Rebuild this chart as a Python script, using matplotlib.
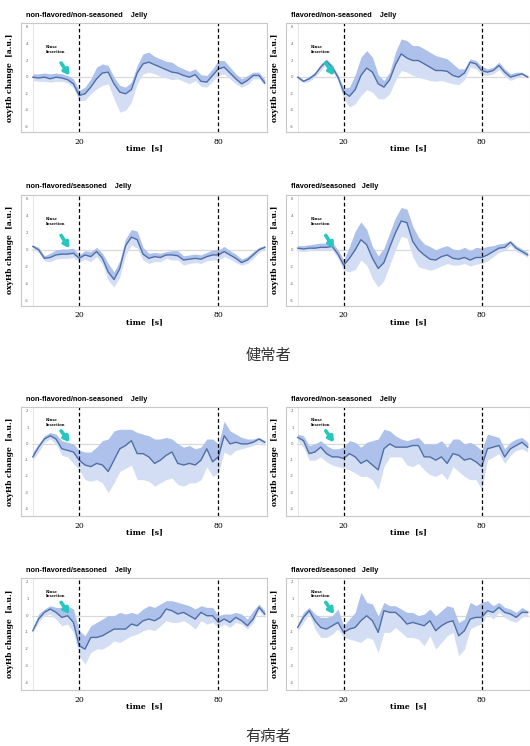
import numpy as np
import matplotlib
matplotlib.use("Agg")
import matplotlib.pyplot as plt

# time axis (s)
t = np.arange(0, 101, 2.5)

titles = ["non-flavored/non-seasoned    Jelly", "flavored/non-seasoned    Jelly",
          "non-flavored/seasoned    Jelly", "flavored/seasoned   Jelly"]
groups = ["健常者", "有病者"]
event_times = [20, 80]
xticks = [20, 80]
yticks_healthy = [6, 4, 2, 0, -2, -4, -6]
yticks_patient = [2, 1, 0, -1, -2, -3, -4]

# healthy subjects
h1_mean = [0.0, -0.1, 0.0, -0.2, 0.0, -0.1, -0.3, -0.8, -2.2, -2.0, -1.2, -0.2, 0.5, 0.6, -0.8, -1.8, -2.0, -1.5, 0.5, 1.6, 1.8,
           1.5, 1.2, 0.9, 0.6, 0.5, 0.2, 0.0, 0.3, -0.5, -0.6, 0.2, 1.0, 1.2, 0.5, -0.2, -0.8, -0.4, 0.2, 0.2, -0.7]
h1_up = [0.4, 0.4, 0.5, 0.4, 0.5, 0.4, 0.2, -0.2, -1.6, -1.2, -0.2, 1.2, 1.6, 1.4, 0.0, -1.0, -1.2, -0.6, 1.4, 2.8, 3.0,
         2.5, 2.2, 1.9, 1.8, 1.3, 1.0, 0.7, 1.0, 0.3, 0.2, 1.0, 2.0, 2.0, 1.2, 0.4, -0.2, 0.2, 0.6, 0.6, -0.3]
h1_lo = [-0.4, -0.5, -0.5, -0.6, -0.5, -0.5, -0.7, -1.3, -2.8, -2.8, -2.0, -1.4, -1.0, -0.8, -2.6, -4.2, -4.0, -3.0, -0.8, 0.4, 0.6,
         0.4, 0.1, -0.1, -0.3, -0.2, -0.5, -0.8, -0.4, -1.1, -1.2, -0.5, 0.2, 0.4, -0.2, -0.8, -1.2, -0.9, -0.2, -0.2, -1.0]

h2_mean = [0.0, -0.5, -0.2, 0.3, 1.2, 1.9, 1.2, 0.0, -1.8, -2.3, -1.5, 0.2, 1.1, 0.6, -0.8, -1.2, -0.3, 1.5, 2.8, 2.3, 2.0,
           2.0, 1.6, 1.2, 0.8, 0.8, 0.7, 0.2, 0.0, 0.5, 1.8, 1.6, 0.8, 0.6, 0.8, 1.4, 0.6, 0.0, 0.2, 0.4, 0.0]
h2_up = [0.2, -0.3, 0.1, 0.6, 1.6, 2.2, 1.5, 0.3, -1.3, -1.2, 0.3, 2.4, 3.2, 2.4, 0.3, -0.4, 0.6, 3.0, 4.6, 4.4, 3.8,
         3.8, 3.4, 3.0, 2.6, 2.4, 2.2, 1.6, 1.0, 1.0, 2.2, 2.0, 1.3, 1.0, 1.2, 1.8, 1.0, 0.4, 0.6, 0.6, 0.2]
h2_lo = [-0.2, -0.7, -0.5, 0.0, 0.8, 1.6, 0.8, -0.4, -2.6, -3.6, -3.2, -2.2, -1.5, -1.8, -2.6, -2.6, -2.0, -0.4, 0.8, 0.6, 0.2,
         0.0, -0.2, -0.4, -0.5, -0.4, -0.6, -0.8, -0.9, -0.3, 1.2, 1.0, 0.3, 0.2, 0.4, 0.9, 0.1, -0.4, -0.1, 0.2, -0.1]

h3_mean = [0.4, 0.0, -1.0, -0.9, -0.6, -0.5, -0.5, -0.4, -1.0, -0.6, -0.8, -0.2, -1.0, -2.6, -3.5, -2.2, 0.5, 1.5, 1.2, -0.5, -1.0,
           -0.8, -0.9, -0.6, -0.6, -0.7, -1.2, -1.1, -1.0, -1.1, -0.8, -0.6, -0.6, -0.2, -0.6, -1.0, -1.5, -1.2, -0.6, 0.0, 0.3]
h3_up = [0.6, 0.3, -0.7, -0.4, 0.0, 0.1, 0.1, 0.2, -0.6, -0.1, -0.2, 0.3, -0.4, -1.6, -2.6, -1.3, 1.3, 2.4, 2.2, 0.3, -0.4,
         -0.3, -0.4, -0.2, -0.1, -0.1, -0.7, -0.6, -0.5, -0.6, -0.3, 0.0, 0.0, 0.4, -0.1, -0.5, -1.1, -0.8, -0.2, 0.3, 0.5]
h3_lo = [0.2, -0.3, -1.3, -1.4, -1.1, -1.0, -1.0, -0.9, -1.4, -1.1, -1.4, -0.8, -1.7, -3.6, -4.4, -3.2, -0.6, 0.6, 0.2, -1.2, -1.6,
         -1.4, -1.4, -1.0, -1.2, -1.2, -1.8, -1.6, -1.5, -1.6, -1.3, -1.2, -1.2, -0.8, -1.1, -1.5, -1.8, -1.6, -1.0, -0.3, 0.1]

h4_mean = [0.2, 0.1, 0.2, 0.2, 0.3, 0.3, 0.4, -0.5, -1.8, -1.0, 0.0, 1.2, 0.6, -1.0, -2.2, -1.5, 0.3, 2.0, 3.4, 3.2, 1.0,
           0.0, -0.6, -1.1, -1.2, -0.8, -0.6, -1.0, -1.1, -0.9, -1.2, -0.9, -0.9, -0.6, -0.2, 0.2, 0.3, 0.9, 0.2, -0.2, -0.6]
h4_up = [0.5, 0.5, 0.6, 0.7, 0.8, 0.8, 0.9, 0.0, -1.2, 0.4, 2.2, 3.3, 2.4, 0.4, -0.7, 0.2, 2.0, 3.8, 5.0, 4.8, 2.8,
         1.5, 0.7, 0.4, 0.0, 0.3, 0.5, 0.1, 0.0, 0.3, -0.1, 0.3, 0.2, 0.4, 0.5, 0.7, 0.8, 1.1, 0.5, 0.1, -0.3]
h4_lo = [-0.1, -0.2, -0.1, 0.0, 0.0, 0.0, 0.0, -1.0, -2.4, -2.6, -2.3, -1.2, -1.8, -3.4, -4.4, -3.6, -1.8, 0.0, 1.6, 1.4, -0.8,
         -2.0, -2.2, -2.4, -2.2, -1.9, -1.6, -1.8, -1.8, -1.6, -1.9, -1.7, -1.6, -1.3, -0.8, -0.3, -0.1, 0.5, -0.2, -0.5, -0.9]

# patients
p1_mean = [-0.8, -0.2, 0.3, 0.5, 0.3, -0.3, -0.4, -0.5, -1.0, -1.3, -1.4, -1.2, -1.3, -1.7, -1.0, -0.3, -0.1, 0.2, -0.6, -0.6, -0.8,
           -1.2, -1.0, -0.7, -0.5, -1.2, -1.3, -1.2, -1.3, -1.0, -0.3, -1.1, -0.8, 0.5, 0.0, 0.1, 0.0, 0.0, 0.1, 0.3, 0.1]
p1_up = [-0.5, 0.0, 0.5, 0.7, 0.6, 0.2, 0.1, 0.0, -0.4, -0.5, -0.5, -0.2, 0.2, 0.3, 0.8, 0.9, 0.9, 0.9, 0.7, 0.6, 0.5,
         0.3, 0.3, 0.4, 0.3, 0.0, -0.2, -0.1, -0.3, -0.2, 0.3, 0.3, 0.0, 1.4, 0.8, 0.6, 0.4, 0.3, 0.3, 0.4, 0.2]
p1_lo = [-1.0, -0.5, 0.1, 0.3, 0.0, -0.7, -0.8, -1.2, -1.6, -2.2, -2.3, -2.2, -2.4, -3.0, -2.4, -1.7, -1.5, -1.3, -2.2, -2.2, -2.3,
         -2.6, -2.4, -2.2, -2.1, -2.5, -2.6, -2.4, -2.4, -2.2, -1.4, -2.0, -1.8, -0.5, -0.7, -0.4, -0.3, -0.2, -0.1, 0.1, -0.1]

p2_mean = [0.4, 0.2, -0.6, -0.5, -0.2, -0.6, -0.8, -0.8, -0.9, -0.6, -0.8, -1.2, -1.0, -1.3, -1.6, -0.3, 0.0, -0.2, -0.2, -0.2, -0.1,
           -0.1, -0.8, -0.8, -1.0, -0.8, -1.2, -0.6, -0.7, -1.0, -0.9, -1.1, -1.4, -0.3, -0.2, -0.1, -0.8, -0.3, -0.1, 0.1, -0.2]
p2_up = [0.6, 0.5, -0.1, 0.0, 0.2, -0.1, -0.3, -0.3, -0.2, 0.2, 0.1, -0.2, 0.1, 0.2, 0.3, 0.9, 0.8, 0.5, 0.3, 0.2, 0.3,
         0.4, 0.0, 0.0, 0.0, 0.2, -0.2, 0.3, 0.3, 0.0, 0.1, -0.1, -0.4, 0.6, 0.5, 0.4, -0.3, 0.1, 0.3, 0.4, 0.1]
p2_lo = [0.2, -0.2, -1.0, -1.0, -0.8, -1.1, -1.3, -1.4, -1.5, -1.6, -1.8, -2.0, -2.0, -2.2, -2.8, -1.4, -0.8, -0.8, -0.8, -1.3, -1.4,
         -1.2, -1.6, -1.9, -2.0, -1.8, -2.2, -1.4, -1.7, -2.0, -2.2, -2.2, -2.8, -1.0, -0.8, -0.6, -1.2, -0.7, -0.4, -0.3, -0.5]

p3_mean = [-0.9, -0.2, 0.2, 0.4, 0.2, -0.1, 0.0, -0.4, -1.8, -2.0, -1.3, -1.3, -1.2, -1.0, -0.8, -0.8, -0.8, -0.5, -0.6, -0.3, -0.2,
           -0.3, -0.1, 0.4, 0.3, 0.1, 0.2, 0.0, -0.2, 0.2, 0.0, 0.0, -0.4, -0.2, -0.4, -0.1, -0.3, -0.6, -0.2, 0.5, 0.1]
p3_up = [-0.7, 0.1, 0.4, 0.6, 0.5, 0.5, 0.6, 0.4, -0.9, -1.2, -0.6, -0.4, -0.2, 0.0, 0.0, 0.2, 0.1, 0.2, 0.1, 0.4, 0.6,
         0.5, 0.7, 0.9, 0.9, 0.8, 0.7, 0.6, 0.4, 0.6, 0.5, 0.5, 0.0, 0.1, 0.1, 0.2, 0.1, -0.2, 0.3, 0.7, 0.3]
p3_lo = [-1.0, -0.4, 0.0, 0.1, -0.2, -0.6, -0.5, -1.0, -2.4, -2.9, -2.2, -2.0, -2.0, -1.8, -1.5, -1.6, -1.4, -1.2, -1.1, -0.9, -0.8,
         -0.9, -0.6, -0.3, -0.4, -0.4, -0.3, -0.5, -0.8, -0.3, -0.5, -0.4, -0.7, -0.5, -0.7, -0.4, -0.5, -0.8, -0.4, 0.3, -0.1]

p4_mean = [-0.7, -0.1, 0.3, -0.3, -0.7, -0.8, -0.6, -0.4, -1.0, -0.8, -0.7, -0.3, 0.0, -0.3, -1.0, 0.3, 0.2, 0.2, -0.1, -0.5, -0.4,
           -0.5, -0.6, -0.3, -0.9, -0.6, -0.4, -0.3, -1.2, -0.9, -0.2, -0.1, -0.1, 0.3, 0.2, 0.5, 0.2, 0.1, -0.1, 0.2, 0.2]
p4_up = [-0.5, 0.2, 0.5, 0.1, -0.1, -0.1, 0.0, 0.4, -0.6, -0.2, 0.2, 1.4, 0.8, 0.7, 0.0, 0.8, 0.6, 0.6, 0.4, 0.2, 0.2,
         0.0, 0.1, 0.4, 0.0, 0.3, 0.6, 0.5, -0.4, -0.2, 0.8, 0.6, 0.8, 0.9, 0.6, 0.8, 0.5, 0.4, 0.2, 0.5, 0.3]
p4_lo = [-0.9, -0.4, 0.1, -0.8, -1.3, -1.3, -1.1, -0.8, -1.3, -1.4, -1.5, -1.6, -1.3, -1.4, -2.2, -1.0, -1.0, -0.7, -1.0, -1.3, -1.3,
         -1.4, -1.8, -1.2, -2.0, -1.6, -1.2, -1.0, -2.4, -2.0, -0.8, -0.6, -0.5, 0.1, -0.2, 0.2, -0.1, -0.3, -0.4, -0.1, 0.0]

panels = [(h1_mean, h1_up, h1_lo), (h2_mean, h2_up, h2_lo), (h3_mean, h3_up, h3_lo), (h4_mean, h4_up, h4_lo),
          (p1_mean, p1_up, p1_lo), (p2_mean, p2_up, p2_lo), (p3_mean, p3_up, p3_lo), (p4_mean, p4_up, p4_lo)]

line_col = "#4f6fa8"
band_hi = "#adc1ea"
band_lo = "#d3def5"
arrow_col = "#27c7c0"

fig = plt.figure(figsize=(5.3, 7.46), dpi=100)

# axes rectangles [left, bottom, width, height] in figure fractions
lefts = [0.040, 0.540]
bottoms = [0.823, 0.590, 0.308, 0.075]
heights = [0.146, 0.149, 0.146, 0.150]
widths = [0.464, 0.460]

for i, (mean, up, lo) in enumerate(panels):
    row, col = divmod(i, 2)
    healthy = i < 4
    ax = fig.add_axes([lefts[col], bottoms[row], widths[col], heights[row]])
    mean, up, lo = np.array(mean), np.array(up), np.array(lo)

    ax.fill_between(t, mean, up, color=band_hi, lw=0)
    ax.fill_between(t, lo, mean, color=band_lo, lw=0)
    ax.plot(t, mean, color=line_col, lw=1.0)

    ax.axhline(0, xmin=0.045, xmax=0.99, color="#d9d9d9", lw=0.9, zorder=0)
    ax.axvline(0, color="#e0e0e0", lw=0.6, zorder=0)
    for ev in event_times:
        ax.axvline(ev, color="black", lw=0.9, ls=(0, (3, 2)))

    ax.set_xlim(-5, 101)
    if healthy:
        ax.set_ylim(-6.6, 6.5)
        yt = yticks_healthy
        arr_tail, arr_head, txt_xy = (12.2, 1.7), (15.8, 0.2), (5.8, 3.3)
    else:
        ax.set_ylim(-4.45, 2.25)
        yt = yticks_patient
        arr_tail, arr_head, txt_xy = (12.2, 0.8), (15.8, 0.1), (5.8, 1.3)
    for v in yt:
        ax.text(-1.8, v, str(v), fontsize=2.8, color="#666666", ha="right", va="center")

    ax.annotate("", xy=arr_head, xytext=arr_tail,
                arrowprops=dict(arrowstyle="-|>,head_width=0.18,head_length=0.3",
                                color=arrow_col, lw=2.6, shrinkA=0, shrinkB=0))
    ax.text(txt_xy[0], txt_xy[1], "Rinse\nInsertion", fontsize=2.8, family="DejaVu Serif",
            fontweight="bold", va="center", ha="left", linespacing=1.3)

    ax.set_xticks(xticks)
    ax.set_xticklabels([str(x) for x in xticks], fontsize=5.5, family="DejaVu Serif")
    ax.tick_params(axis="x", length=0, pad=4)
    ax.set_yticks([])
    for s in ax.spines.values():
        s.set_color("#c8c8c8")
        s.set_linewidth(0.8)

    ax.set_xlabel("time  [s]", fontsize=5.5, family="DejaVu Serif", fontweight="bold", labelpad=-1)
    ax.set_ylabel("oxyHb change  [a.u.]", fontsize=5.5, family="DejaVu Serif", fontweight="bold", labelpad=5)
    ax.text(0.02, 1.04, titles[i % 4], transform=ax.transAxes, fontsize=5.3,
            fontweight="bold", ha="left", va="bottom", family="Liberation Sans")

fig.text(0.507, 1 - 355 / 746, groups[0], fontsize=11, family="Noto Sans CJK JP",
         color="#333333", ha="center", va="center")
fig.text(0.507, 1 - 736 / 746, groups[1], fontsize=11, family="Noto Sans CJK JP",
         color="#333333", ha="center", va="center")

fig.savefig("out.png", dpi=100)
